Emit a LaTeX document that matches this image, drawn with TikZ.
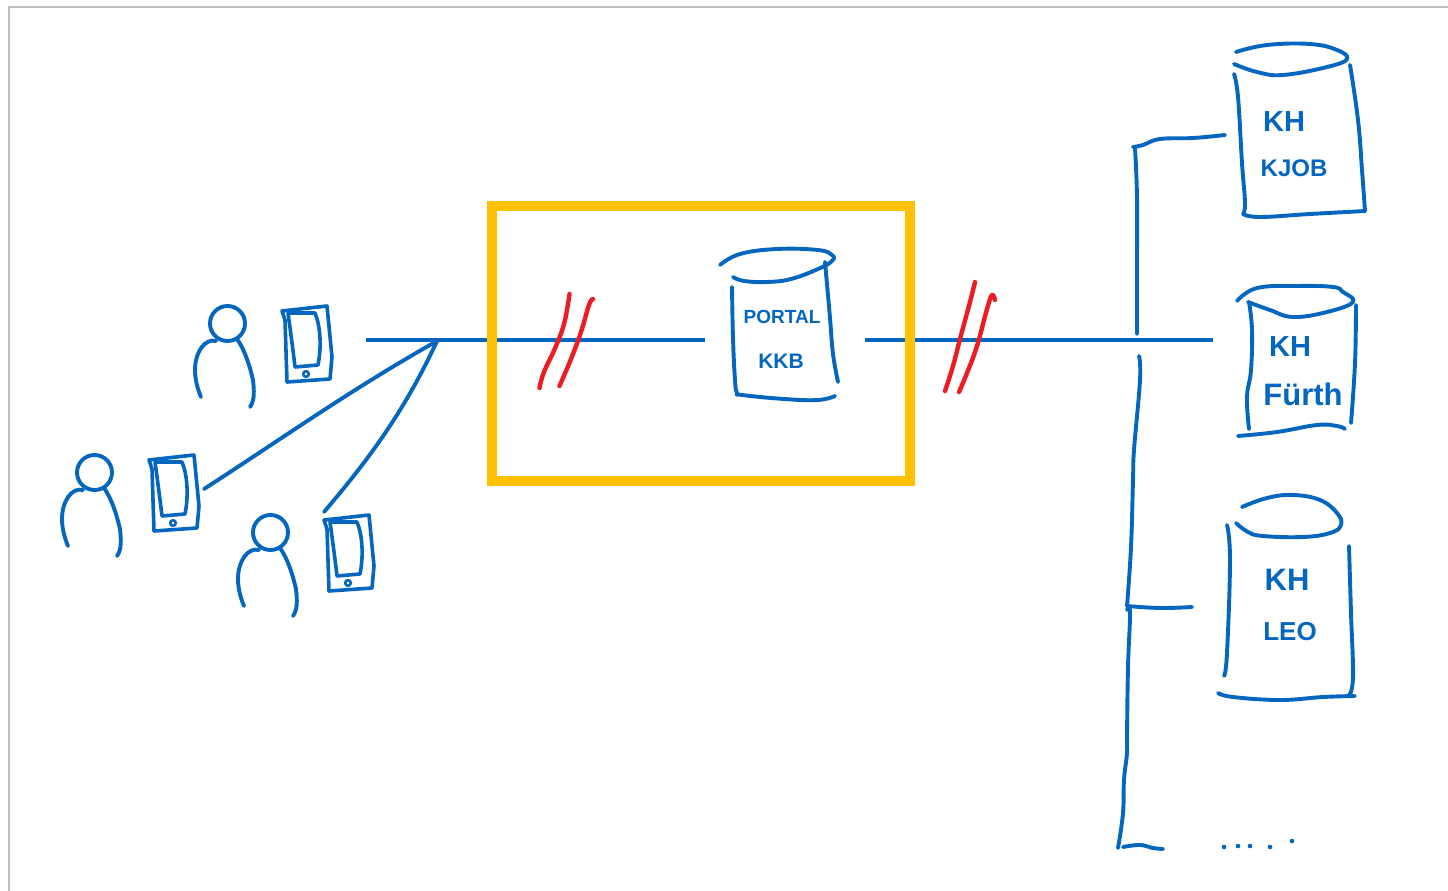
\documentclass[tikz,border=0pt]{standalone}
\usepackage{fontspec}
\setmainfont{Liberation Sans}
\definecolor{penblue}{HTML}{0566BF}
\definecolor{penred}{HTML}{ED1C24}
\definecolor{boxyellow}{HTML}{FFC000}
\definecolor{framegrey}{HTML}{BFBFBF}
\newcommand{\penline}[1]{\draw[pen] plot[smooth,tension=.7] coordinates {#1};}
\newcommand{\redline}[1]{\draw[redpen] plot[smooth,tension=.7] coordinates {#1};}
\newcommand{\personfig}[2]{\begin{scope}[shift={(#1,#2)}]
\draw[pen] (227.5,323.5) ellipse (17.5 and 17.5);
\draw[pen] (216,341) .. controls (205,338) and (195,352) .. (195,370) .. controls (195,380) and (198,390) .. (201,397);
\draw[pen] (237,339) .. controls (245,350) and (250,367) .. (253,380) .. controls (254,390) and (255,400) .. (250,407);
\end{scope}}
\newcommand{\phonefig}[2]{\begin{scope}[shift={(#1,#2)}]
\draw[pen,line width=3.6] (282,311) -- (327,306) -- (332,357) -- (330,379) -- (287,382) -- (285,320) -- (282,311) -- cycle;
\draw[pen,line width=3.6] (288,313) -- (315,313) .. controls (320,325) and (322,345) .. (318,365) -- (295,367) .. controls (293,350) and (291,335) .. (288,313);
\draw[pen,line width=2.6] (306,374) circle (2.8);
\end{scope}}
\tikzset{
  pen/.style={draw=penblue,line width=3.9,line cap=round,line join=round},
  redpen/.style={draw=penred,line width=4.4,line cap=round,line join=round},
  wire/.style={draw=penblue,line width=3.4},
  hand/.style={text=penblue,inner sep=0pt,font=#1},
  focusbox/.style={draw=boxyellow,line width=10,minimum width=418,minimum height=275,inner sep=0pt,rectangle}
}
\begin{document}
\begin{tikzpicture}[x=1pt,y=-1pt]
\useasboundingbox (0,0) rectangle (1448,891);
\draw[framegrey,line width=1.5] (9,891) -- (9,7) -- (1448,7);
% connector ends
\coordinate (mainstart) at (366,340);
\coordinate (hub) at (437,341);
\coordinate (portalin) at (705,340);
\coordinate (portalout) at (865,340);
\coordinate (fuerthin) at (1213,340);
\coordinate (busa) at (1133,147);
\coordinate (kjobin) at (1225,135);
\coordinate (leoin) at (1192,607);
\coordinate (busb) at (1127,606);
\coordinate (phoneBout) at (204,489);
\coordinate (phoneCout) at (324,512);
% main line
\draw[wire] (mainstart) -- (portalin);
\draw[wire] (portalout) -- (fuerthin);
% focus box over the line
\node[focusbox] (focus) at (701,343.5) {};
% red breaks
\redline{(569.5,294) (564.5,322) (556,346) (544,372) (539.5,388)}
\redline{(593,299) (589,305) (581,332) (571,359) (559.5,386)}
\redline{(975,282) (970,302) (960,339) (953,366) (945,391)}
\redline{(995,300) (992,295) (987,309) (977,346) (967,373) (959,392)}
% users
\personfig{0}{0}
\phonefig{0}{0}
\personfig{-133}{149}
\phonefig{-133}{149}
\personfig{43}{209}
\phonefig{42}{209}
\draw[pen] (phoneBout) .. controls (280,440) and (350,390) .. (hub);
\draw[pen] (phoneCout) .. controls (370,458) and (405,410) .. (hub);
% portal
\penline{(720,265) (740,254) (777,249) (818,250) (832,255) (832,261) (818,269) (791,279) (767,282) (744,281) (733,277)}
\penline{(732,287) (733,338) (735,380) (737,393) (742,395) (784,399) (818,400) (835,396)}
\penline{(825,262) (830,318) (833,354) (838,382)}
\node[hand={\fontsize{19}{19}\bfseries\selectfont}] (portaltext) at (782,317) {PORTAL};
\node[hand={\fontsize{21}{21}\bfseries\selectfont}] (kkbtext) at (781,361) {KKB};
% bus
\penline{(kjobin) (1193,138) (1160,139) (1143,145) (busa)}
\penline{(1135,148) (1137,197) (1137,263) (1137,334)}
\penline{(1139,356) (1140,380) (1134,450) (1133,480) (1131,547) (busb)}
\penline{(busb) (1160,608) (leoin)}
\penline{(1127,610) (1130,613) (1128,667) (1127,737) (1127,753) (1124,780) (1123,813) (1118,848)}
\penline{(1123,847) (1140,845) (1153,848) (1163,849)}
\foreach \dx/\dy in {1224/847,1238/846,1250/846,1270/847,1292/841}
  \fill[penblue] (\dx,\dy) circle (2.3);
% KH top
\penline{(1236,52) (1267,45) (1310,44) (1337,50) (1347,59) (1327,67) (1283,75) (1257,72) (1234,64)}
\penline{(1234,74) (1238,97) (1242,163) (1245,203) (1243,214)}
\penline{(1243,214) (1260,217) (1310,214) (1365,211)}
\penline{(1350,65) (1358,120) (1362,170) (1365,211)}
\node[hand={\fontsize{29}{29}\bfseries\selectfont}] (kha) at (1284,122) {KH};
\node[hand={\fontsize{24}{24}\bfseries\selectfont}] (khatwo) at (1294,168) {KJOB};
% KH Fuerth
\penline{(1237,301) (1257,288) (1297,286) (1333,287) (1343,292) (1353,302) (1327,312) (1293,317) (1270,310) (1248,302)}
\penline{(1249,302) (1252,330) (1251,370) (1247,397) (1249,429)}
\penline{(1356,305) (1355,363) (1351,423)}
\penline{(1238,436) (1277,432) (1317,425) (1337,426) (1345,429)}
\node[hand={\fontsize{29}{29}\bfseries\selectfont}] (khb) at (1290,347) {KH};
\node[hand={\fontsize{31}{31}\bfseries\selectfont}] (khbtwo) at (1303,394) {Fürth};
% KH LEO
\penline{(1242,507) (1267,498) (1293,495) (1320,500) (1337,513) (1341,525) (1330,533) (1303,537) (1263,536) (1248,532) (1236,523)}
\penline{(1227,525) (1230,560) (1227,653) (1224,676)}
\penline{(1349,546) (1351,613) (1353,677) (1349,695)}
\penline{(1218,693) (1233,697) (1280,700) (1323,697) (1355,696)}
\node[hand={\fontsize{31}{31}\bfseries\selectfont}] (khc) at (1287,580) {KH};
\node[hand={\fontsize{26}{26}\bfseries\selectfont}] (khctwo) at (1290,632) {LEO};
\end{tikzpicture}
\end{document}
